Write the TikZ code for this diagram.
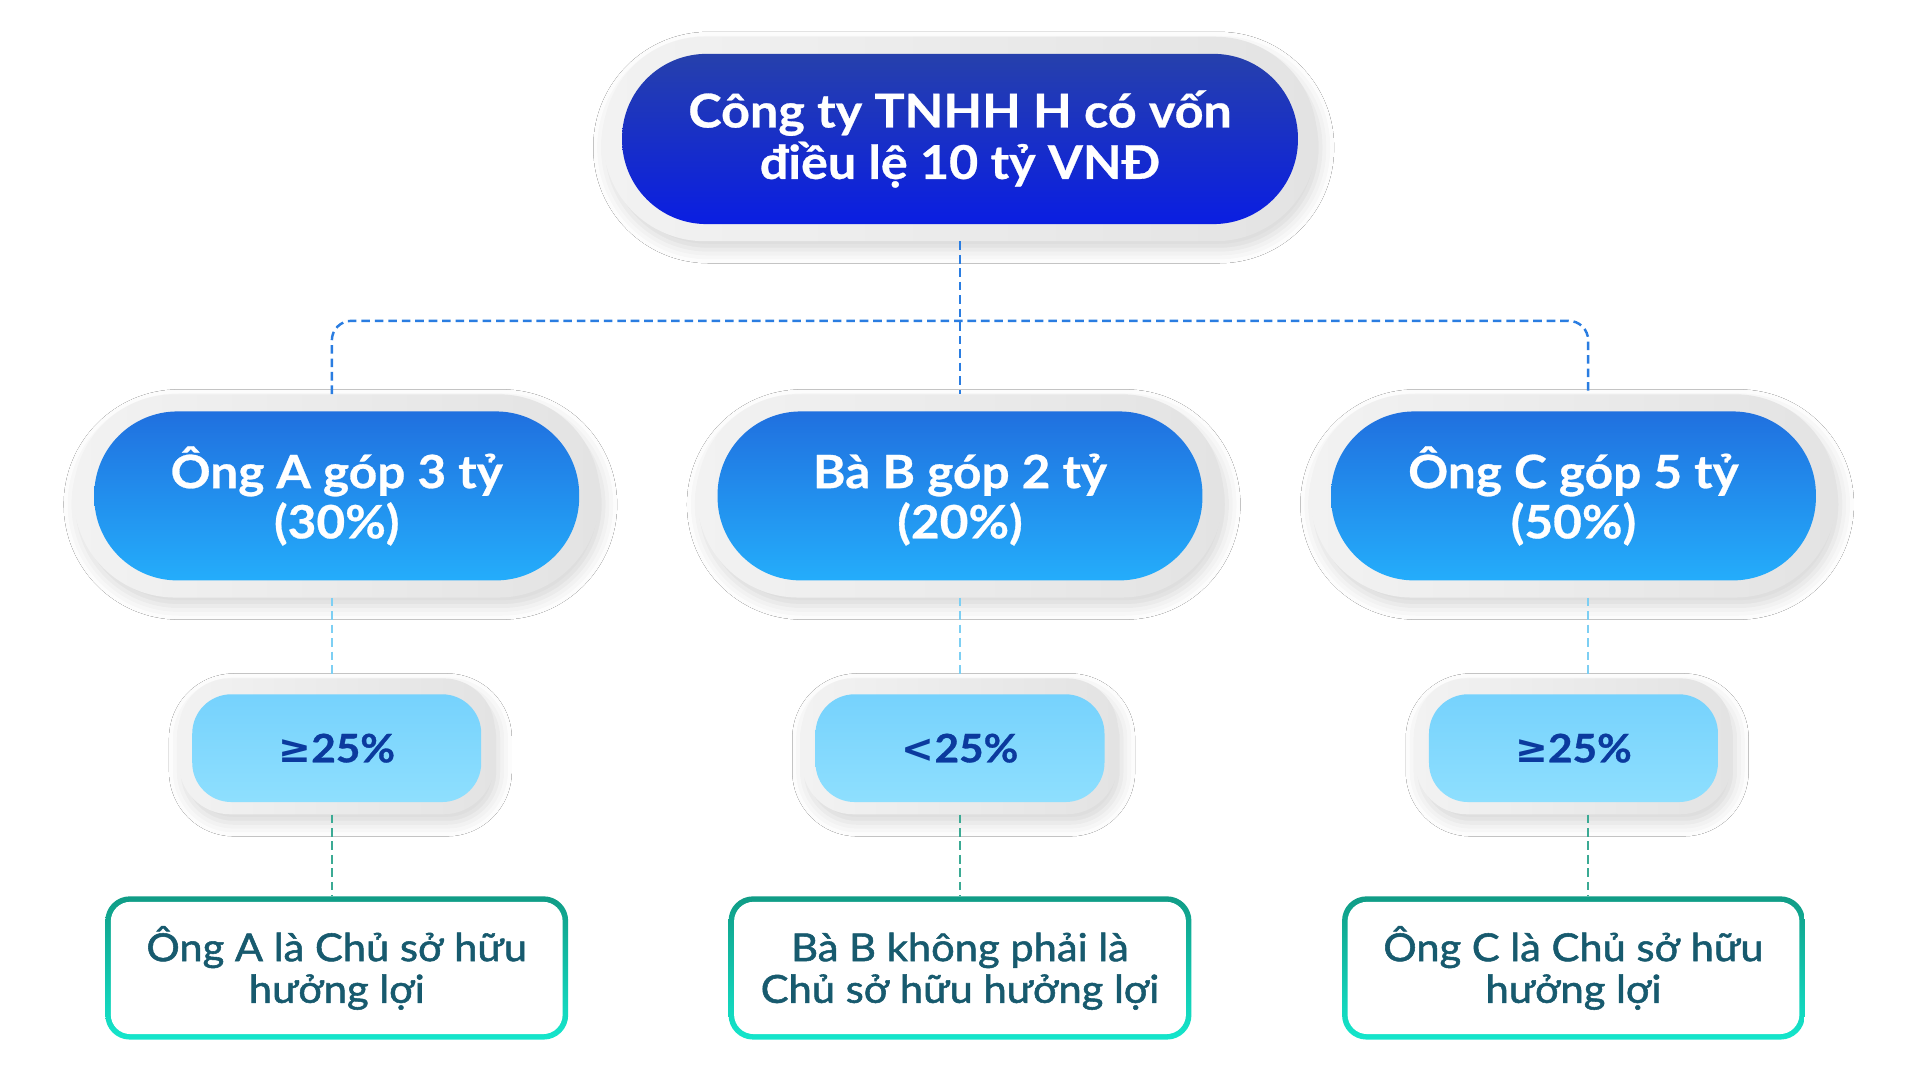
\documentclass[tikz,border=0pt]{standalone}
\usepackage{fontspec}
\setmainfont{Lato}[FakeStretch=1.08]
\newfontfamily\symfont{DejaVu Sans}
\usetikzlibrary{shadows.blur}
\definecolor{topT}{HTML}{2640AC}
\definecolor{topB}{HTML}{0A1EE2}
\definecolor{midT}{HTML}{2070DF}
\definecolor{midB}{HTML}{24ADFB}
\definecolor{smT}{HTML}{76D2FD}
\definecolor{smB}{HTML}{8EDFFE}
\definecolor{smTxt}{HTML}{0B3A9E}
\definecolor{botTxt}{HTML}{175A6E}
\definecolor{brdT}{HTML}{109C86}
\definecolor{brdB}{HTML}{14E6CC}
\definecolor{haloL}{HTML}{F2F2F2}
\definecolor{haloR}{HTML}{E3E3E3}
\definecolor{cBlue}{HTML}{2A7DE1}
\definecolor{cLight}{HTML}{7DCFF3}
\definecolor{cTeal}{HTML}{3BAA94}
\tikzset{
  halo/.style={draw=none, inner sep=0pt, left color=haloL, right color=haloR,
    blur shadow={shadow xshift=3pt, shadow yshift=-7pt, shadow blur radius=11pt, shadow opacity=16}},
  topbox/.style={draw=none, inner sep=0pt, top color=topT, bottom color=topB,
    minimum width=552pt, minimum height=139pt, rounded corners=69pt,
    text=white, align=center, font=\bfseries\fontsize{38}{42}\selectfont\addfontfeature{FakeBold=0.6}},
  midbox/.style={draw=none, inner sep=0pt, top color=midT, bottom color=midB,
    minimum width=396pt, minimum height=138pt, rounded corners=68pt,
    text=white, align=center, font=\bfseries\fontsize{37.5}{41}\selectfont\addfontfeature{FakeBold=0.6}},
  smbox/.style={draw=none, inner sep=0pt, top color=smT, bottom color=smB,
    minimum width=236pt, minimum height=88pt, rounded corners=32pt,
    text=smTxt, align=center, font=\bfseries\fontsize{32}{40}\selectfont\addfontfeature{FakeBold=0.8}},
  botouter/.style={draw=none, inner sep=0pt, top color=brdT, bottom color=brdB,
    minimum width=378pt, minimum height=117pt, rounded corners=20pt},
  botinner/.style={draw=none, inner sep=0pt, fill=white,
    minimum width=369pt, minimum height=108pt, rounded corners=16pt,
    text=botTxt, align=center, font=\fontsize{31.5}{34}\selectfont\addfontfeature{FakeBold=1.4}},
  connA/.style={draw=cBlue, line width=2pt, dash pattern=on 7pt off 4pt},
  connB/.style={draw=cLight, line width=2pt, dash pattern=on 7pt off 4pt},
  connC/.style={draw=cTeal, line width=2pt, dash pattern=on 7pt off 4pt},
}
\begin{document}
\begin{tikzpicture}[x=1pt,y=-1pt]
\useasboundingbox (0,0) rectangle (1568,882);
\fill[white] (0,0) rectangle (1568,882);

% top
\node[halo, minimum width=583pt, minimum height=167pt, rounded corners=83pt] (toph) at (784,113.5) {};
\node[topbox] (top) at (784,113.5) {Công ty TNHH H có vốn\\điều lệ 10 tỷ VNĐ};

% middle row
\foreach \n/\x in {A/275,B/784,C/1285}{
  \node[halo, minimum width=430pt, minimum height=166pt, rounded corners=83pt] (mid\n h) at (\x,405) {};
  \node[halo, minimum width=258pt, minimum height=111pt, rounded corners=42pt] (sm\n h) at (\x,609.5) {};
}
\node[midbox] (midA) at (275,405) {Ông A góp 3 tỷ\\(30\%)};
\node[midbox] (midB) at (784,405) {\vphantom{Ô}Bà B góp 2 tỷ\\(20\%)};
\node[midbox] (midC) at (1285,405) {Ông C góp 5 tỷ\\(50\%)};

\node[smbox] (smA) at (275,611) {{\symfont\bfseries ≥}25\%};
\node[smbox] (smB) at (784,611) {{\symfont\bfseries <}25\%};
\node[smbox] (smC) at (1285,611) {{\symfont\bfseries ≥}25\%};

% bottom
\node[botouter] (botA) at (275,790.5) {};
\node[botouter] (botB) at (784,790.5) {};
\node[botouter] (botC) at (1285,790.5) {};
\node[botinner] (botAt) at (botA) {Ông A là Chủ sở hữu\\hưởng lợi};
\node[botinner] (botBt) at (botB) {\vphantom{Ô}Bà B không phải là\\Chủ sở hữu hưởng lợi};
\node[botinner] (botCt) at (botC) {Ông C là Chủ sở hữu\\hưởng lợi};

% connectors
\coordinate (bus) at (784,262);
\draw[connA] (toph.south) -- (midBh.north);
\draw[connA, rounded corners=16pt] ([xshift=-4pt]midAh.north) |- (bus) -| ([xshift=12pt]midCh.north);
\draw[connB] ([xshift=-4pt]midAh.south) -- ([xshift=-4pt]smAh.north);
\draw[connC] ([xshift=-4pt]smAh.south) -- ([xshift=-4pt]botA.north);
\draw[connB] (midBh.south) -- (smBh.north);
\draw[connC] (smBh.south) -- (botB.north);
\draw[connB] ([xshift=12pt]midCh.south) -- ([xshift=12pt]smCh.north);
\draw[connC] ([xshift=12pt]smCh.south) -- ([xshift=12pt]botC.north);
\end{tikzpicture}
\end{document}
